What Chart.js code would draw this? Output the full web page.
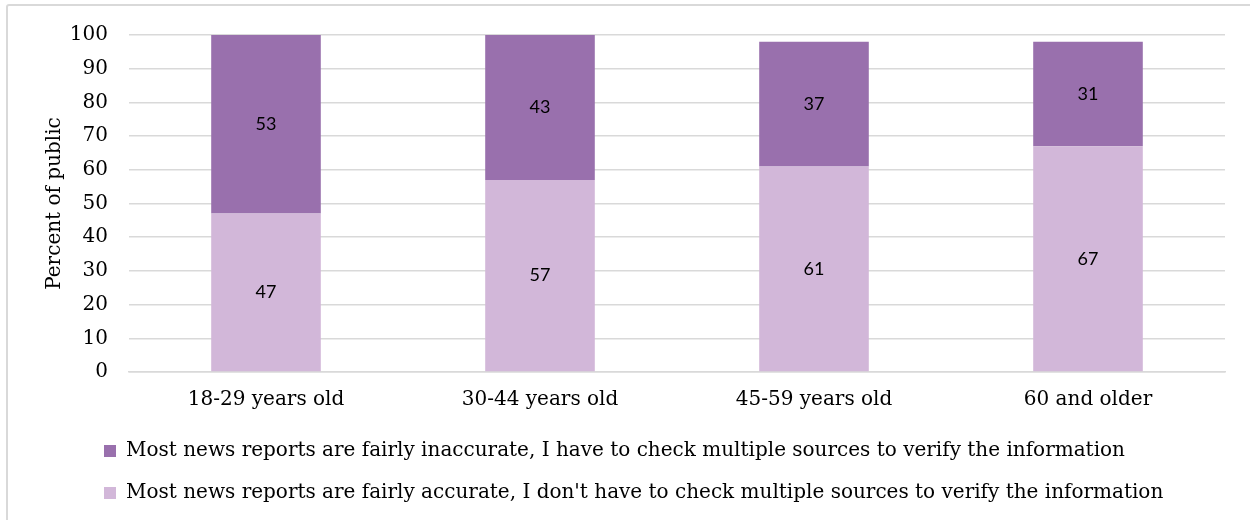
<!DOCTYPE html>
<html>
<head>
<meta charset="utf-8">
<script src="https://cdn.jsdelivr.net/npm/chart.js@4.4.1/dist/chart.umd.min.js"></script>
<style>
  html, body { margin: 0; padding: 0; background: #ffffff; width: 1250px; height: 520px; overflow: hidden; }
  #frame { position: absolute; left: 6px; top: 4px; width: 1300px; height: 600px; border: 2px solid #d9d9d9; border-radius: 3px; box-sizing: border-box; }
  #wrap { position: absolute; left: 0; top: 0; width: 1250px; height: 520px; }
</style>
</head>
<body>
<div id="frame"></div>
<div id="wrap"><canvas id="c" width="1250" height="520"></canvas></div>
<script>
const categories = ["18-29 years old", "30-44 years old", "45-59 years old", "60 and older"];
const seriesNames = [
  "Most news reports are fairly inaccurate, I have to check multiple sources to verify the information",
  "Most news reports are fairly accurate, I don't have to check multiple sources to verify the information"
];
const inaccurateValues = [53, 43, 37, 31];
const accurateValues = [47, 57, 61, 67];
const yTickValues = [0, 10, 20, 30, 40, 50, 60, 70, 80, 90, 100];
const yAxisTitle = "Percent of public";

const SERIF = "'DejaVu Serif', serif";
const DARK = "#9970ad";
const LIGHT = "#d2b7d9";

const valueLabels = {
  id: 'valueLabels',
  afterDatasetsDraw(chart) {
    const ctx = chart.ctx;
    ctx.save();
    ctx.font = "18px Lato, 'Liberation Sans', sans-serif";
    ctx.fillStyle = "#000000";
    ctx.textAlign = "center";
    ctx.textBaseline = "middle";
    chart.data.datasets.forEach((ds, di) => {
      const meta = chart.getDatasetMeta(di);
      meta.data.forEach((bar, i) => {
        const p = bar.getProps(['x', 'y', 'base'], true);
        ctx.fillText(String(ds.data[i]), p.x, (p.y + p.base) / 2);
      });
    });
    ctx.restore();
  }
};

const legendShift = {
  id: 'legendShift',
  afterLayout(chart) {
    if (chart.legend) {
      chart.legend.left += 43;
      chart.legend.right += 43;
    }
  }
};

new Chart(document.getElementById('c'), {
  type: 'bar',
  data: {
    labels: categories,
    datasets: [
      { label: seriesNames[1], data: accurateValues, backgroundColor: LIGHT },
      { label: seriesNames[0], data: inaccurateValues, backgroundColor: DARK }
    ]
  },
  options: {
    responsive: false,
    animation: false,
    events: [],
    layout: { padding: { top: 35, right: 25, left: 39, bottom: 7 } },
    datasets: { bar: { categoryPercentage: 1.0, barPercentage: 0.4 } },
    scales: {
      x: {
        stacked: true,
        afterFit(scale) { scale.height = 47; },
        grid: { display: false, drawTicks: false },
        border: { display: true, color: '#d9d9d9', width: 1.5 },
        ticks: { color: '#000', font: { family: SERIF, size: 20, lineHeight: 1.1 }, padding: 17, maxRotation: 0 }
      },
      y: {
        stacked: true,
        min: 0, max: 100,
        afterBuildTicks(scale) { scale.ticks = yTickValues.map(v => ({ value: v })); },
        afterFit(scale) { scale.width = 90; },
        grid: { color: '#d9d9d9', lineWidth: 1.5, drawTicks: false },
        border: { display: false },
        ticks: { color: '#000', font: { family: SERIF, size: 20 }, padding: 21 },
        title: { display: true, text: yAxisTitle, color: '#000', font: { family: SERIF, size: 20 }, padding: { top: 4, bottom: 4 } }
      }
    },
    plugins: {
      tooltip: { enabled: false },
      legend: {
        position: 'bottom',
        align: 'start',
        reverse: true,
        labels: {
          color: '#000',
          font: { family: SERIF, size: 20 },
          boxWidth: 12, boxHeight: 12,
          padding: 22
        }
      }
    }
  },
  plugins: [valueLabels, legendShift]
});
</script>
</body>
</html>
